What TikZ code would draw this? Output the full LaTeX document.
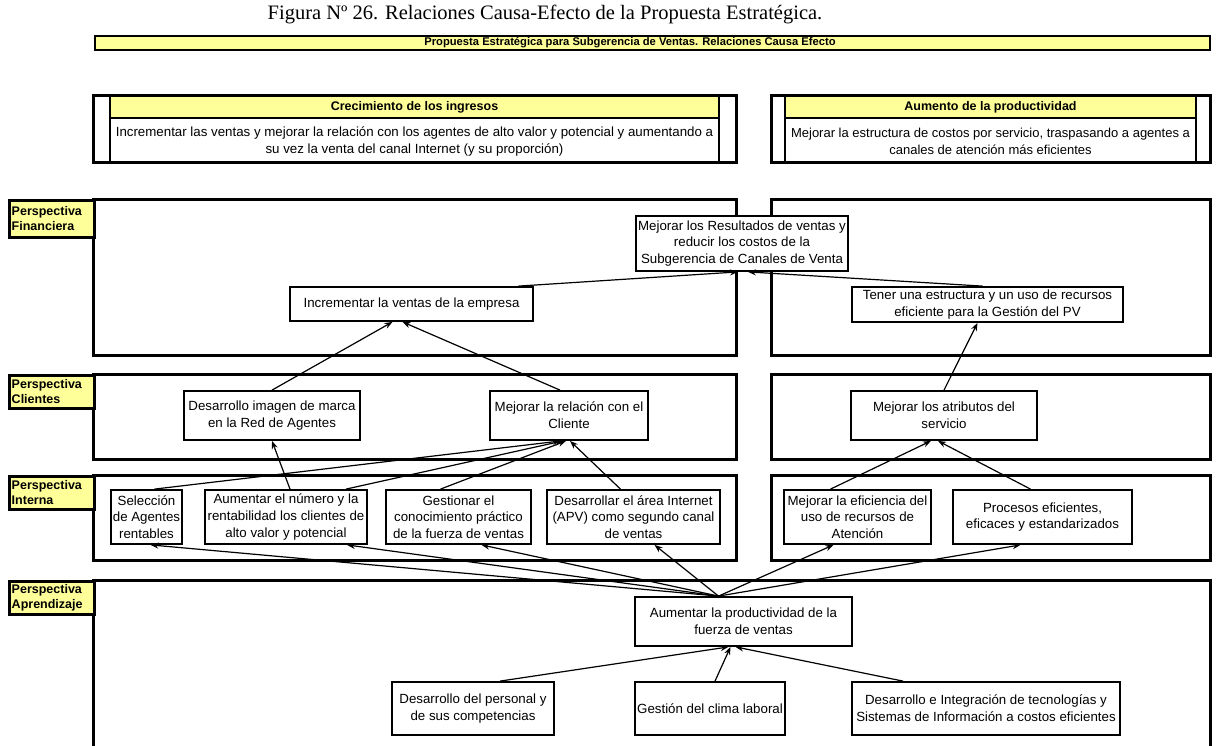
\documentclass[tikz,border=0pt]{standalone}
\usepackage{fontspec}
\setmainfont{Liberation Sans}
\newfontfamily\titlefont{Liberation Serif}
\usetikzlibrary{arrows.meta}
\definecolor{hdr}{HTML}{FFFF99}

\begin{document}
\begin{tikzpicture}[x=1pt,y=-1pt,
  panel/.style={draw,line width=3pt},
  nbox/.style={draw,line width=1.8pt,fill=white,align=center,inner sep=2pt,
    font=\fontsize{13.3}{16.7}\selectfont},
  tag/.style={draw,line width=2.5pt,fill=hdr,align=left,anchor=north west,
    text width=80pt,inner xsep=2.5pt,inner ysep=1pt,minimum height=33,
    font=\bfseries\fontsize{12.5}{15.5}\selectfont},
  bold/.style={font=\bfseries\fontsize{12.5}{15}\selectfont},
  plain/.style={align=center,font=\fontsize{13.3}{17.5}\selectfont},
  link/.style={-{Stealth[length=8pt,width=6pt]},line width=1.2pt}
]
\useasboundingbox (0,0) rectangle (1229,745);

% caption and banner
\node[font=\titlefont\fontsize{20.5}{24}\selectfont] (cap) at (545,14)
  {Figura Nº 26. Relaciones Causa-Efecto de la Propuesta Estratégica.};
\draw[fill=hdr,line width=2.5pt] (95,36) rectangle (1210,50);
\node[font=\bfseries\fontsize{11.2}{13}\selectfont] (ban) at (630,43)
  {Propuesta Estratégica para Subgerencia de Ventas. Relaciones Causa Efecto};

% strategic themes
\draw[fill=hdr,line width=1.5pt] (110,95) rectangle (719,118);
\draw[line width=1.5pt] (110,95) -- (110,162) (719,95) -- (719,162);
\draw[panel] (93,95) rectangle (736,162);
\node[bold] (thA) at (414.5,107) {Crecimiento de los ingresos};
\node[plain] (dsA) at (414.5,141.5) {Incrementar las ventas y mejorar la relación con los agentes de alto valor y potencial y aumentando a\\su vez la venta del canal Internet (y su proporción)};

\draw[fill=hdr,line width=1.5pt] (785,95) rectangle (1196,118);
\draw[line width=1.5pt] (785,95) -- (785,162) (1196,95) -- (1196,162);
\draw[panel] (771,95) rectangle (1210,162);
\node[bold] (thB) at (990.5,107) {Aumento de la productividad};
\node[plain,font=\fontsize{13}{17.5}\selectfont] (dsB) at (990.5,141.5) {Mejorar la estructura de costos por servicio, traspasando a agentes a\\canales de atención más eficientes};

% perspective panels
\draw[panel] (93,199) rectangle (736,355);
\draw[panel] (771,199) rectangle (1210,355);
\draw[panel] (93,374) rectangle (736,459);
\draw[panel] (771,374) rectangle (1210,459);
\draw[panel] (93,475) rectangle (736,560);
\draw[panel] (771,475) rectangle (1210,560);
\draw[panel] (93,760) -- (93,580) -- (1210,580) -- (1210,760);

\node[tag,minimum height=37] (pF) at (8,199) {Perspectiva\\Financiera};
\node[tag] (pC) at (8,374) {Perspectiva\\Clientes};
\node[tag] (pI) at (8,475) {Perspectiva\\Interna};
\node[tag] (pA) at (8,580) {Perspectiva\\Aprendizaje};

% financial objectives
\node[nbox,minimum width=212,minimum height=55] (mr) at (742,243.5)
  {Mejorar los Resultados de ventas y\\reducir los costos de la\\Subgerencia de Canales de Venta};
\node[nbox,minimum width=243,minimum height=34] (inc) at (411.5,304)
  {Incrementar la ventas de la empresa};
\node[nbox,minimum width=271,minimum height=35] (ten) at (987.5,304.5)
  {Tener una estructura y un uso de recursos\\eficiente para la Gestión del PV};

% customer objectives
\node[nbox,minimum width=176,minimum height=49] (dim) at (272,415.5)
  {Desarrollo imagen de marca\\en la Red de Agentes};
\node[nbox,minimum width=158,minimum height=49] (mrel) at (569,415.5)
  {Mejorar la relación con el\\Cliente};
\node[nbox,minimum width=186,minimum height=49] (matr) at (944,415.5)
  {Mejorar los atributos del\\servicio};

% internal objectives
\node[nbox,minimum width=71,minimum height=54] (sel) at (146.5,517)
  {Selección\\de Agentes\\rentables};
\node[nbox,minimum width=162,minimum height=54] (aum) at (286,517)
  {Aumentar el número y la\\rentabilidad los clientes de\\alto valor y potencial};
\node[nbox,minimum width=145,minimum height=54] (ges) at (458.5,517)
  {Gestionar el\\conocimiento práctico\\de la fuerza de ventas};
\node[nbox,minimum width=173,minimum height=54] (dai) at (633.5,517)
  {Desarrollar el área Internet\\(APV) como segundo canal\\de ventas};
\node[nbox,minimum width=147,minimum height=54] (mef) at (857.5,517)
  {Mejorar la eficiencia del\\uso de recursos de\\Atención};
\node[nbox,minimum width=179,minimum height=54] (pro) at (1042.5,517)
  {Procesos eficientes,\\eficaces y estandarizados};

% learning objectives
\node[nbox,minimum width=217,minimum height=49] (ap) at (743.5,621.5)
  {Aumentar la productividad de la\\fuerza de ventas};
\node[nbox,minimum width=162,minimum height=53] (dp) at (473,708.5)
  {Desarrollo del personal y\\de sus competencias};
\node[nbox,minimum width=150,minimum height=53] (gc) at (710,708.5)
  {Gestión del clima laboral};
\node[nbox,minimum width=268,minimum height=53] (dit) at (986,708.5)
  {Desarrollo e Integración de tecnologías y\\Sistemas de Información a costos eficientes};

% cause-effect links
\draw[link] ([xshift=107]inc.north) -- ([xshift=-4]mr.south);
\draw[link] ([xshift=-5]ten.north) -- ([xshift=6]mr.south);
\draw[link] (dim.north) -- ([xshift=-19]inc.south);
\draw[link] ([xshift=-9]mrel.north) -- ([xshift=-9]inc.south);
\draw[link] (matr.north) -- ([xshift=-10]ten.south);

\draw[link] ([xshift=8]sel.north) -- ([xshift=-8]mrel.south);
\draw[link] ([xshift=4]aum.north) -- (dim.south);
\draw[link] ([xshift=60]aum.north) -- ([xshift=-6]mrel.south);
\draw[link] ([xshift=-18]ges.north) -- ([xshift=-3]mrel.south);
\draw[link] ([xshift=-13]dai.north) -- ([xshift=1]mrel.south);
\draw[link] ([xshift=-27]mef.north) -- ([xshift=-13]matr.south);
\draw[link] ([xshift=-12]pro.north) -- ([xshift=-6]matr.south);

\draw[link] ([xshift=-25]ap.north) -- ([xshift=4]sel.south);
\draw[link] ([xshift=-25]ap.north) -- ([xshift=61]aum.south);
\draw[link] ([xshift=-25]ap.north) -- ([xshift=23]ges.south);
\draw[link] ([xshift=-25]ap.north) -- ([xshift=21]dai.south);
\draw[link] ([xshift=-25]ap.north) -- ([xshift=-24]mef.south);
\draw[link] ([xshift=-25]ap.north) -- ([xshift=-22]pro.south);

\draw[link] ([xshift=27]dp.north) -- ([xshift=-15]ap.south);
\draw[link] ([xshift=5]gc.north) -- ([xshift=-13]ap.south);
\draw[link] ([xshift=-83]dit.north) -- ([xshift=-8]ap.south);
\end{tikzpicture}
\end{document}
